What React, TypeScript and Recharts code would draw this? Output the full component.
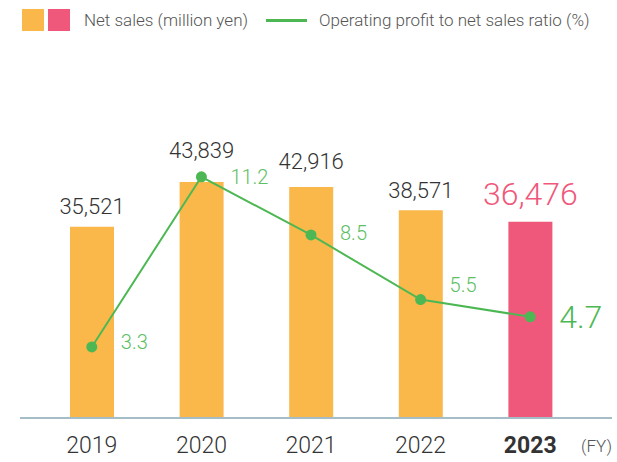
import React from 'react';
import { ComposedChart, Bar, Line, XAxis, YAxis, Cell, LabelList, Label } from 'recharts';

const years = ['2019', '2020', '2021', '2022', '2023'];
const netSales = [35521, 43839, 42916, 38571, 36476];
const profitRatio = [3.3, 11.2, 8.5, 5.5, 4.7];

const colors = {
  bar: '#FAB84B',
  highlight: '#F0587B',
  line: '#4DB853',
  lineLabel: '#5EC064',
  text: '#333333',
  muted: '#555555',
  axis: '#A5BDC6',
};

const font = 'Roboto, "Liberation Sans", sans-serif';

// gap between bar top and label baseline, tuned to the original artwork
const barLabelLift = [13, 24, 18, 12, 17];
// vertical nudge of the ratio labels relative to the dots
const ratioLabelShift = [-5, 0, -2, -15, 0];

const data = years.map((year, i) => ({
  year,
  sales: netSales[i],
  ratio: profitRatio[i],
}));

const last = years.length - 1;

const BarValue = (props: any) => {
  const { x, y, width, value, index } = props;
  const big = index === last;
  return (
    <text
      x={x + width / 2}
      y={y - barLabelLift[index]}
      textAnchor="middle"
      fontFamily={font}
      fontWeight={300}
      fontSize={big ? 32 : 22}
      fill={big ? colors.highlight : colors.text}
    >
      {Number(value).toLocaleString('en-US')}
    </text>
  );
};

const RatioValue = (props: any) => {
  const { x, y, value, index } = props;
  const big = index === last;
  return (
    <text
      x={x + 29}
      y={y + ratioLabelShift[index]}
      dominantBaseline="central"
      fontFamily={font}
      fontWeight={300}
      fontSize={big ? 32 : 20}
      fill={big ? colors.line : colors.lineLabel}
    >
      {Number(value).toFixed(1)}
    </text>
  );
};

const YearTick = (props: any) => {
  const { x, y, payload, index } = props;
  const bold = index === last;
  return (
    <text
      x={x}
      y={y + 35}
      textAnchor="middle"
      fontFamily={font}
      fontWeight={bold ? 700 : 300}
      fontSize={23}
      fill={colors.text}
    >
      {payload.value}
    </text>
  );
};

const LegendBar = () => (
  <div
    style={{
      position: 'absolute',
      left: 0,
      top: 0,
      width: 617,
      height: 40,
      fontFamily: font,
      fontWeight: 300,
      fontSize: 17,
      color: colors.muted,
    }}
  >
    <div style={{ position: 'absolute', left: 22, top: 9, width: 22, height: 22, background: colors.bar }} />
    <div style={{ position: 'absolute', left: 48, top: 9, width: 22, height: 22, background: colors.highlight }} />
    <div style={{ position: 'absolute', left: 84, top: 9, lineHeight: '22px', whiteSpace: 'nowrap' }}>
      Net sales (million yen)
    </div>
    <div style={{ position: 'absolute', left: 266, top: 19, width: 41, height: 3, background: colors.line }} />
    <div style={{ position: 'absolute', left: 319, top: 9, lineHeight: '22px', whiteSpace: 'nowrap' }}>
      Operating profit to net sales ratio (%)
    </div>
  </div>
);

export default function App() {
  return (
    <div style={{ position: 'relative', width: 617, height: 462, background: '#fff' }}>
      <style>{'body{margin:0}'}</style>
      <LegendBar />
      <ComposedChart
        width={617}
        height={462}
        data={data}
        margin={{ top: 95, right: 5, bottom: 0, left: 20 }}
      >
        <XAxis
          dataKey="year"
          height={44}
          padding={{ left: 17, right: 27 }}
          axisLine={{ stroke: colors.axis, strokeWidth: 2 }}
          tickLine={false}
          tickSize={0}
          tickMargin={0}
          tick={<YearTick />}
          interval={0}
        >
          <Label
            value="(FY)"
            position="insideRight"
            offset={0}
            dy={6}
            fontFamily={font}
            fontWeight={300}
            fontSize={17}
            fill={colors.muted}
          />
        </XAxis>
        <YAxis yAxisId="sales" hide domain={[0, 60000]} />
        <YAxis yAxisId="ratio" hide orientation="right" domain={[0, 15]} />
        <Bar yAxisId="sales" dataKey="sales" barSize={44} isAnimationActive={false}>
          {data.map((d, i) => (
            <Cell key={d.year} fill={i === last ? colors.highlight : colors.bar} />
          ))}
          <LabelList dataKey="sales" content={<BarValue />} />
        </Bar>
        <Line
          yAxisId="ratio"
          dataKey="ratio"
          type="linear"
          stroke={colors.line}
          strokeWidth={2}
          dot={{ r: 5.5, fill: colors.line, stroke: colors.line, strokeWidth: 0 }}
          activeDot={false}
          isAnimationActive={false}
        >
          <LabelList dataKey="ratio" content={<RatioValue />} />
        </Line>
      </ComposedChart>
    </div>
  );
}
